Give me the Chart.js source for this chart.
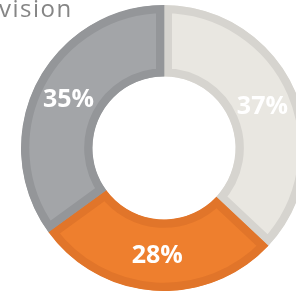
<!DOCTYPE html>
<html>
<head>
<meta charset="utf-8">
<script src="https://cdn.jsdelivr.net/npm/chart.js@4.4.0/dist/chart.umd.min.js"></script>
<style>
  html, body { margin: 0; padding: 0; background: #fff; overflow: hidden; width: 296px; height: 295px; }
  #wrap { position: absolute; left: 0; top: 0; width: 328px; height: 296px; }
  #title { position: absolute; left: -1px; top: -4px; font: 400 24px/24px "Open Sans", sans-serif; color: #858585; letter-spacing: 1.5px; z-index: 2; }
</style>
</head>
<body>
<div id="title">vision</div>
<div id="wrap"><canvas id="myChart"></canvas></div>
<script>
const labels = ["A", "B", "C"]
const values = [37, 28, 35]
const fills = ["#e9e7e1", "#ee7f2e", "#a3a5a8"]
const borders = ["#d6d4cf", "#e1752a", "#949699"]

// write the % inside each slice
const pctLabels = {
  id: 'pctLabels',
  afterDatasetsDraw(chart) {
    const ctx = chart.ctx
    const meta = chart.getDatasetMeta(0)
    ctx.save()
    ctx.fillStyle = '#ffffff'
    ctx.font = '700 25px "Open Sans", sans-serif'
    ctx.textAlign = 'center'
    ctx.textBaseline = 'middle'
    meta.data.forEach((arc, i) => {
      const p = arc.tooltipPosition()
      ctx.fillText(values[i] + '%', p.x, p.y + 1)
    })
    ctx.restore()
  }
}

new Chart("myChart", {
  type: "doughnut",
  data: {
    labels: labels,
    datasets: [{
      data: values,
      backgroundColor: fills,
      borderColor: borders,
      borderWidth: 8,
      borderAlign: 'inner',
      borderJoinStyle: 'miter'
    }]
  },
  options: {
    responsive: true,
    maintainAspectRatio: false,
    animation: false,
    cutout: '50%',
    layout: { padding: { top: 5, bottom: 5 } },
    plugins: {
      legend: { display: false },
      tooltip: { enabled: false }
    }
  },
  plugins: [pctLabels]
});
</script>
</body>
</html>
